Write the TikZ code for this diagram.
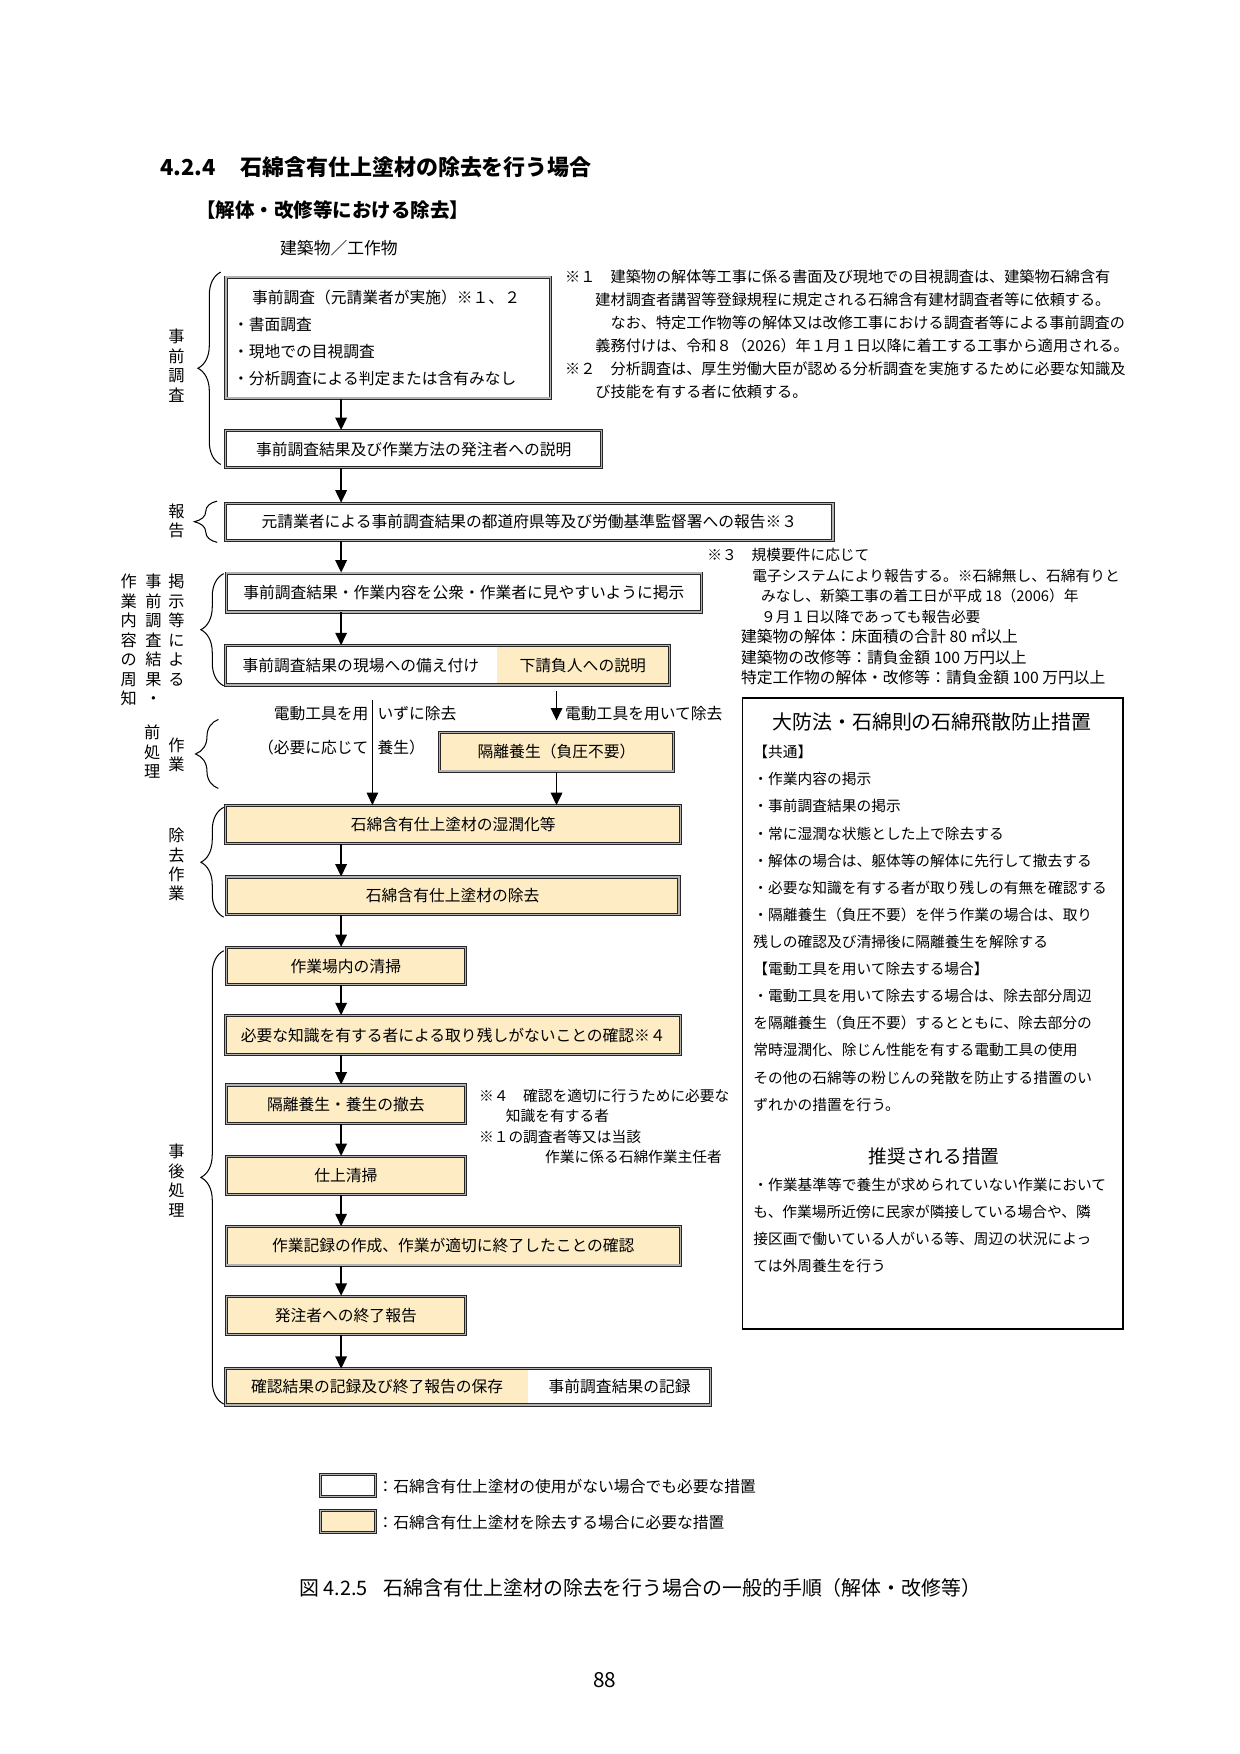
\documentclass[tikz,border=0pt]{standalone}
\usepackage{fontspec}
\setmainfont{Noto Sans CJK JP}
\usetikzlibrary{arrows.meta,positioning,decorations.pathreplacing}
\definecolor{asbyellow}{RGB}{253,236,196}
\newcommand\boxfont{\fontsize{7.6}{13}\selectfont}
\newcommand\notefont{\fontsize{7.3}{11.1}\selectfont}
\newcommand\smallnotefont{\fontsize{7.1}{9.9}\selectfont}
\newcommand\rulefont{\fontsize{7.1}{13.07}\selectfont}
\newcommand\sidefont{\fontsize{7.8}{9.4}\selectfont}

\begin{document}
\begin{tikzpicture}[y=-1cm,
  frame/.style   = {draw=black!85, line width=0.45pt, double=black!30, double distance=0.6pt},
  box/.style     = {frame, inner sep=2pt, font=\boxfont},
  plain/.style   = {box, fill=white},
  asb/.style     = {box, fill=asbyellow},   % needed only where the coating is removed
  part/.style    = {inner sep=0pt, font=\boxfont},
  arr/.style     = {line width=0.9pt, -{Triangle[length=6pt,width=5.5pt]}},
  thinarr/.style = {line width=0.6pt, -{Triangle[length=6pt,width=5.5pt]}},
  brc/.style     = {decorate, decoration={brace, amplitude=11pt}, line width=0.5pt},
  side/.style    = {align=center, font=\sidefont, inner sep=0pt},
  note/.style    = {align=left, anchor=north west, inner sep=0pt},
  lbl/.style     = {font=\boxfont, inner sep=0pt},
]
  \useasboundingbox (0,0) rectangle (21,29.72);

  \node[anchor=west, inner sep=0pt, font=\fontsize{10.6}{12}\selectfont\bfseries] (title) at (2.71,2.84) {4.2.4\hspace{1.1em}石綿含有仕上塗材の除去を行う場合};
  \node[anchor=west, inner sep=0pt, font=\fontsize{9.4}{11}\selectfont\bfseries] (subtitle) at (3.32,3.56) {【解体・改修等における除去】};
  \node[anchor=west, inner sep=0pt, font=\fontsize{8.1}{10}\selectfont] (target) at (4.74,4.21) {建築物／工作物};

  % main column
  \coordinate (spine) at (5.78,0);
  \coordinate (dry) at (6.31,0);

  \node[plain, minimum width=5.50cm, minimum height=2.05cm, align=left, text width=5.26cm] (survey) at (6.58,5.72) {\hspace*{1.2em}事前調査（元請業者が実施）※１、２\\・書面調査\\・現地での目視調査\\・分析調査による判定または含有みなし};
  \node[plain, minimum width=6.37cm, minimum height=0.63cm] (explain) at (7.01,7.61) {事前調査結果及び作業方法の発注者への説明};
  \node[plain, minimum width=10.29cm, minimum height=0.63cm] (notify) at (8.97,8.84) {元請業者による事前調査結果の都道府県等及び労働基準監督署への報告※３};
  \node[plain, minimum width=8.05cm, minimum height=0.66cm] (post) at (7.86,10.04) {事前調査結果・作業内容を公衆・作業者に見やすいように掲示};
  \node[part, fill=white, minimum width=4.57cm, minimum height=0.66cm] (keep) at (6.115,11.27) {事前調査結果の現場への備え付け};
  \node[part, fill=asbyellow, minimum width=2.92cm, minimum height=0.66cm, right=0pt of keep] (sub) {下請負人への説明};
  \draw[frame] (keep.north west) rectangle (sub.south east);

  \node[asb, minimum width=3.96cm, minimum height=0.65cm] (iso) at (9.43,12.74) {隔離養生（負圧不要）};
  \node[asb, minimum width=7.71cm, minimum height=0.64cm] (wet) at (7.68,13.97) {石綿含有仕上塗材の湿潤化等};
  \node[asb, minimum width=7.67cm, minimum height=0.64cm] (strip) at (7.67,15.18) {石綿含有仕上塗材の除去};
  \node[asb, minimum width=4.05cm, minimum height=0.63cm] (clean) at (5.86,16.37) {作業場内の清掃};
  \node[asb, minimum width=7.71cm, minimum height=0.66cm] (check) at (7.68,17.54) {必要な知識を有する者による取り残しがないことの確認※４};
  \node[asb, minimum width=4.05cm, minimum height=0.65cm] (unseal) at (5.86,18.71) {隔離養生・養生の撤去};
  \node[asb, minimum width=4.05cm, minimum height=0.65cm] (finish) at (5.86,19.92) {仕上清掃};
  \node[asb, minimum width=7.69cm, minimum height=0.65cm] (record) at (7.68,21.11) {作業記録の作成、作業が適切に終了したことの確認};
  \node[asb, minimum width=4.05cm, minimum height=0.65cm] (report) at (5.86,22.29) {発注者への終了報告};
  \node[part, fill=asbyellow, minimum width=5.12cm, minimum height=0.60cm] (store) at (6.39,23.50) {確認結果の記録及び終了報告の保存};
  \node[part, fill=white, minimum width=3.07cm, minimum height=0.60cm, right=0pt of store] (prior) {事前調査結果の記録};
  \draw[frame] (store.north west) rectangle (prior.south east);

  \draw[arr] (survey.south -| spine) -- (explain.north -| spine);
  \draw[arr] (explain.south -| spine) -- (notify.north -| spine);
  \draw[arr] (notify.south -| spine) -- (post.north -| spine);
  \draw[arr] (post.south -| spine) -- (keep.north -| spine);
  \draw[thinarr, shorten <=0.26cm] (keep.south -| dry) -- (wet.north -| dry);
  \draw[arr, shorten <=0.1cm, shorten >=0.2cm] (iso.north |- sub.south) -- (iso.north);
  \draw[arr] (iso.south) -- (iso.south |- wet.north);
  \draw[arr] (wet.south -| spine) -- (strip.north -| spine);
  \draw[arr] (strip.south -| spine) -- (clean.north -| spine);
  \draw[arr] (clean.south -| spine) -- (check.north -| spine);
  \draw[arr] (check.south -| spine) -- (unseal.north -| spine);
  \draw[arr] (unseal.south -| spine) -- (finish.north -| spine);
  \draw[arr] (finish.south -| spine) -- (record.north -| spine);
  \draw[arr] (record.south -| spine) -- (report.north -| spine);
  \draw[arr] (report.south -| spine) -- (store.north -| spine);

  \node[lbl, anchor=east] (dryA) at (6.25,12.09) {電動工具を用};
  \node[lbl, anchor=west] (dryB) at (6.39,12.09) {いずに除去};
  \node[lbl, anchor=east] (dryC) at (6.25,12.66) {（必要に応じて};
  \node[lbl, anchor=west] (dryD) at (6.39,12.66) {養生）};
  \node[lbl, anchor=west] (power) at (9.57,12.09) {電動工具を用いて除去};

  % phases on the left
  \draw[brc] (3.74,7.87) -- (3.74,4.61);
  \draw[brc] (3.68,9.19) -- (3.68,8.49);
  \draw[brc] (3.79,11.62) -- (3.79,9.72);
  \draw[brc] (3.70,13.36) -- (3.70,12.19);
  \draw[brc] (3.79,15.54) -- (3.79,13.68);
  \draw[brc] (3.79,23.79) -- (3.79,16.11);
  \node[side] (phsurvey) at (2.99,6.20) {事\\前\\調\\査};
  \node[side] (phreport) at (2.99,8.83) {報\\告};
  \node[side, anchor=north] (phpostA) at (2.99,9.72) {掲\\示\\等\\に\\よ\\る};
  \node[side, anchor=north] (phpostB) at (2.60,9.72) {事\\前\\調\\査\\結\\果\\・};
  \node[side, anchor=north] (phpostC) at (2.18,9.72) {作\\業\\内\\容\\の\\周\\知};
  \node[side] (phpreA) at (2.99,12.79) {作\\業};
  \node[side] (phpreB) at (2.58,12.74) {前\\処\\理};
  \node[side] (phstrip) at (2.99,14.65) {除\\去\\作\\業};
  \node[side] (phafter) at (2.99,20.00) {事\\後\\処\\理};

  % notes
  \node[note, font=\notefont] (note12) at (9.57,4.56) {※１　建築物の解体等工事に係る書面及び現地での目視調査は、建築物石綿含有\\
\hspace*{2em}建材調査者講習等登録規程に規定される石綿含有建材調査者等に依頼する。\\
\hspace*{3em}なお、特定工作物等の解体又は改修工事における調査者等による事前調査の\\
\hspace*{2em}義務付けは、令和８（2026）年１月１日以降に着工する工事から適用される。\\
※２　分析調査は、厚生労働大臣が認める分析調査を実施するために必要な知識及\\
\hspace*{2em}び技能を有する者に依頼する。};
  \node[note, font=\smallnotefont] (note3) at (11.98,9.28) {※３　規模要件に応じて\\
\hspace*{0.76cm}電子システムにより報告する。※石綿無し、石綿有りと\\
\hspace*{0.91cm}みなし、新築工事の着工日が平成 18（2006）年\\
\hspace*{0.91cm}９月１日以降であっても報告必要\\
\hspace*{0.57cm}{\fontsize{7.6}{9.9}\selectfont 建築物の解体：床面積の合計 80 ㎡以上}\\
\hspace*{0.57cm}{\fontsize{7.6}{9.9}\selectfont 建築物の改修等：請負金額 100 万円以上}\\
\hspace*{0.57cm}{\fontsize{7.6}{9.9}\selectfont 特定工作物の解体・改修等：請負金額 100 万円以上}};
  \node[note, font=\smallnotefont] (note4) at (8.11,18.44) {※４　確認を適切に行うために必要な\\
\hspace*{0.455cm}知識を有する者\\
※１の調査者等又は当該\\
\hspace*{1.12cm}作業に係る石綿作業主任者};

  % statutory measures
  \node[draw, line width=0.7pt, minimum width=6.45cm, minimum height=10.69cm] (rules) at (15.805,17.175) {};
  \node[inner sep=0pt, font=\fontsize{9.6}{11}\selectfont] (rulestitle) at (15.79,12.24) {大防法・石綿則の石綿飛散防止措置};
  \node[note, font=\rulefont] (rulesbody) at (12.76,12.62) {【共通】\\
・作業内容の掲示\\
・事前調査結果の掲示\\
・常に湿潤な状態とした上で除去する\\
・解体の場合は、躯体等の解体に先行して撤去する\\
・必要な知識を有する者が取り残しの有無を確認する\\
・隔離養生（負圧不要）を伴う作業の場合は、取り\\
残しの確認及び清掃後に隔離養生を解除する\\
【電動工具を用いて除去する場合】\\
・電動工具を用いて除去する場合は、除去部分周辺\\
を隔離養生（負圧不要）するとともに、除去部分の\\
常時湿潤化、除じん性能を有する電動工具の使用\\
その他の石綿等の粉じんの発散を防止する措置のい\\
ずれかの措置を行う。};
  \node[inner sep=0pt, font=\fontsize{9}{11}\selectfont] (advtitle) at (15.83,19.60) {推奨される措置};
  \node[note, font=\rulefont] (advbody) at (12.76,19.95) {・作業基準等で養生が求められていない作業において\\
も、作業場所近傍に民家が隣接している場合や、隣\\
接区画で働いている人がいる等、周辺の状況によっ\\
ては外周養生を行う};

  % legend
  \node[plain, minimum width=0.93cm, minimum height=0.38cm] (keywhite) at (5.90,25.17) {};
  \node[lbl, anchor=west] (keywhitetxt) at (6.39,25.19) {：石綿含有仕上塗材の使用がない場合でも必要な措置};
  \node[asb, minimum width=0.93cm, minimum height=0.38cm] (keyyellow) at (5.90,25.78) {};
  \node[lbl, anchor=west] (keyyellowtxt) at (6.39,25.79) {：石綿含有仕上塗材を除去する場合に必要な措置};

  \node[inner sep=0pt, font=\fontsize{9.6}{11}\selectfont] (caption) at (10.85,26.91) {図 4.2.5\hspace{0.8em}石綿含有仕上塗材の除去を行う場合の一般的手順（解体・改修等）};
  \node[inner sep=0pt, font=\fontsize{10}{12}\selectfont] (page) at (10.25,28.47) {88};
\end{tikzpicture}
\end{document}
